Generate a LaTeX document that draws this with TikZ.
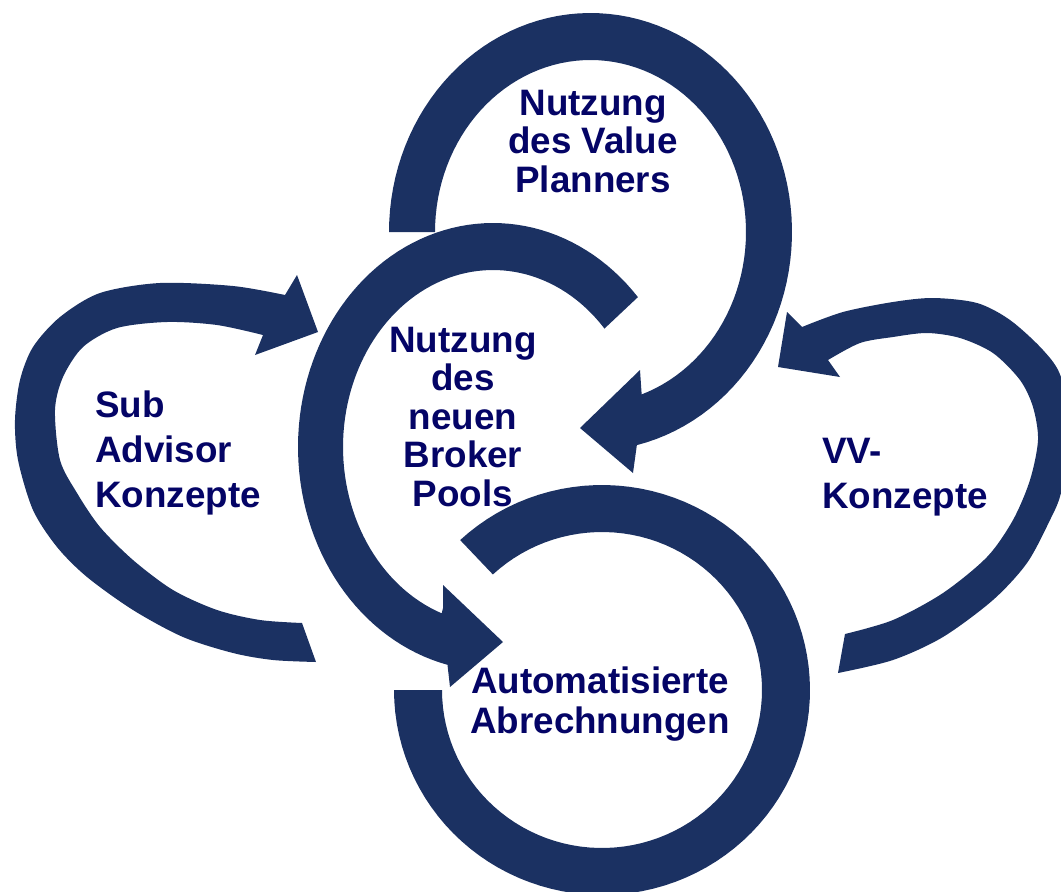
\documentclass[tikz,border=0pt]{standalone}
\usepackage{fontspec}
\setmainfont{Liberation Sans}
\definecolor{ringc}{RGB}{27,49,98}
\definecolor{textc}{RGB}{4,4,102}
\begin{document}
\begin{tikzpicture}[x=1pt,y=-1pt,
  ring/.style={fill=ringc},
  lbl/.style={inner sep=0pt,text=textc,font=\bfseries\fontsize{36.8}{38.5}\selectfont}]
\useasboundingbox (0,0) rectangle (1061,892);
\clip (0,0) rectangle (1061,892);
% labels (anchor base = baseline of the last line)
\node[lbl,align=center,anchor=base] (vp) at (593,192) {Nutzung\\des Value\\Planners};
\node[lbl,align=center,anchor=base] (bp) at (463,506) {Nutzung\\des\\neuen\\Broker\\Pools};
\node[lbl,align=center,anchor=base,font=\bfseries\fontsize{36.8}{40}\selectfont] (ab) at (600,733) {Automatisierte\\Abrechnungen};
\node[lbl,align=left,anchor=base west,font=\bfseries\fontsize{36.8}{45}\selectfont] (sa) at (95,507) {Sub\\Advisor\\Konzepte};
\node[lbl,align=left,anchor=base west,font=\bfseries\fontsize{36.8}{45}\selectfont] (vv) at (822,508) {VV-\\Konzepte};
% top ring (Value Planners)
\fill[ring] plot[domain=180:436.7,samples=90] ({590.5+201.5*cos(\x)},{232+219*sin(\x)})
  -- (633,473) -- (580,428) -- (640,370) -- (641.7,395)
  -- plot[domain=431:180,samples=90] ({590.5+155.5*cos(\x)},{232+172*sin(\x)}) -- cycle;
% middle ring (Broker Pools)
\fill[ring] plot[domain=-42:-256.5,samples=90] ({493+195*cos(\x)},{447+224*sin(\x)})
  -- (450,687) -- (503,642) -- (443,585) -- (443,608)
  -- plot[domain=-250:-42,samples=90] ({493+150*cos(\x)},{447+177*sin(\x)}) -- cycle;
% bottom ring (Abrechnungen)
\fill[ring] plot[domain=180:-133,samples=100] ({602+208*cos(\x)},{690+205*sin(\x)})
  -- plot[domain=-133:180,samples=100] ({602+160*cos(\x)},{690+158*sin(\x)}) -- cycle;
% left arrow (Sub Advisor)
\fill[ring] plot[smooth] coordinates {(285,295) (233,286) (160,283) (100,293) (60,317) (33,347) (20,380) (15,420) (18,460) (33,510) (57,547) (87,577) (133,610) (183,637) (233,653) (273,660) (316,662)}
  -- plot[smooth] coordinates {(302,623) (260,620) (217,610) (173,590) (133,560) (100,527) (77,493) (60,460) (55,410) (63,377) (83,347) (117,328) (167,322) (217,325) (263,335)}
  -- (255,355) -- (318,332) -- (297,275) -- cycle;
% right arrow (VV-Konzepte)
\fill[ring] plot[smooth] coordinates {(802,327) (843,312) (893,302) (933,298) (977,303) (1010,320) (1043,350) (1061,377) (1072,435) (1061,493) (1050,520) (1027,563) (993,600) (943,637) (893,660) (838,673)}
  -- plot[smooth] coordinates {(845,634) (893,620) (943,593) (987,557) (1013,520) (1030,480) (1038,440) (1033,407) (1020,380) (993,353) (960,338) (927,333) (893,337) (860,343) (828,360)}
  -- (840,377) -- (778,367) -- (787,312) -- cycle;
\end{tikzpicture}
\end{document}
